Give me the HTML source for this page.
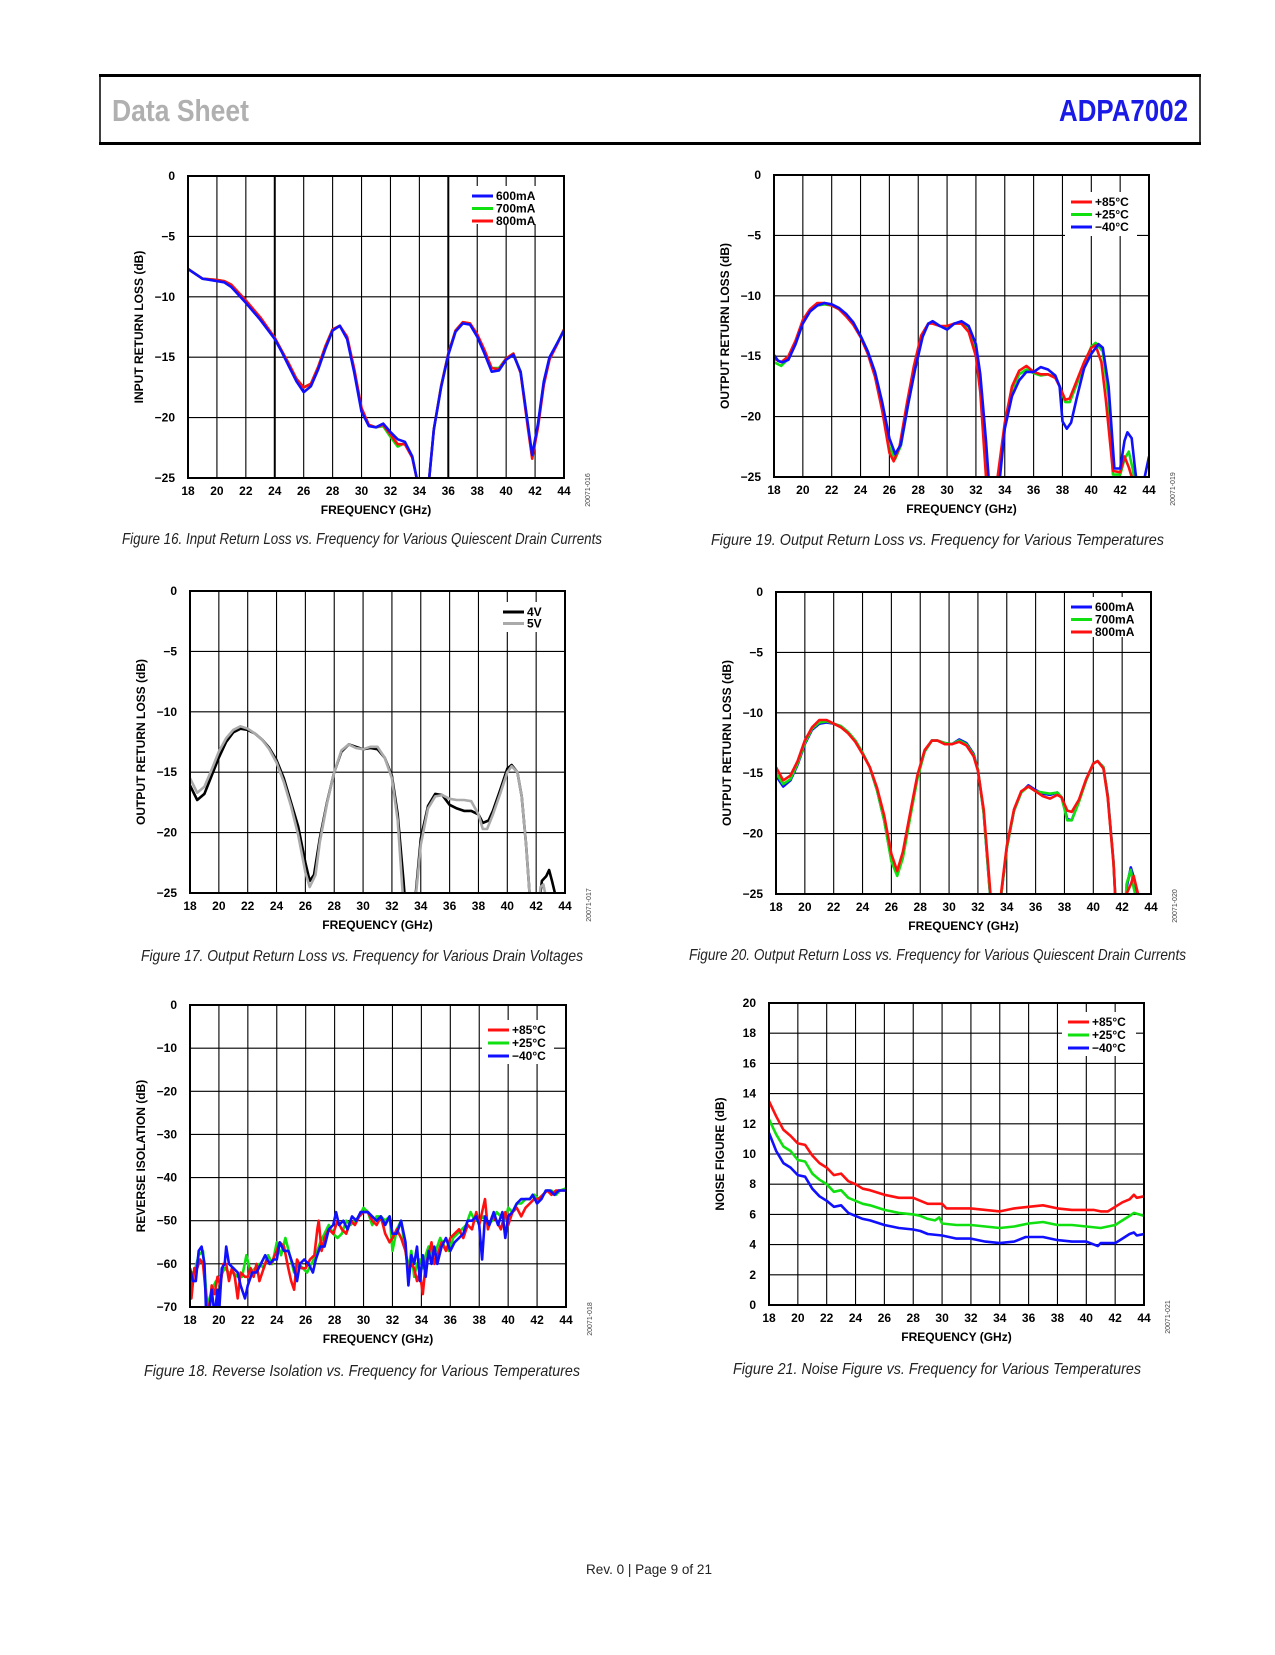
<!DOCTYPE html>
<html><head><meta charset="utf-8"><style>
html,body{margin:0;padding:0;background:#fff;}
svg text{font-family:"Liberation Sans",Arial,sans-serif;}
.cap{font-family:"Liberation Sans Narrow","Liberation Sans",sans-serif;font-style:italic;font-size:16px;fill:#222;}
</style></head><body>
<svg id="page" xmlns="http://www.w3.org/2000/svg" width="1275" height="1650" viewBox="0 0 1275 1650">
<g>
<rect x="100" y="76" width="1100" height="67" fill="none" stroke="#000" stroke-width="1.5"/>
<line x1="99" y1="75.5" x2="1201" y2="75.5" stroke="#000" stroke-width="3"/>
<line x1="99" y1="143.5" x2="1201" y2="143.5" stroke="#000" stroke-width="3"/>
<text x="112" y="121" font-size="31" font-weight="bold" fill="#b0b0b0" textLength="137" lengthAdjust="spacingAndGlyphs">Data Sheet</text>
<text x="1059" y="121" font-size="31" font-weight="bold" fill="#1a1ae6" textLength="129" lengthAdjust="spacingAndGlyphs">ADPA7002</text>
</g>
<text class="cap" x="122" y="544" textLength="480" lengthAdjust="spacingAndGlyphs">Figure 16. Input Return Loss vs. Frequency for Various Quiescent Drain Currents</text>
<text class="cap" x="711" y="545" textLength="453" lengthAdjust="spacingAndGlyphs">Figure 19. Output Return Loss vs. Frequency for Various Temperatures</text>
<text class="cap" x="141" y="961" textLength="442" lengthAdjust="spacingAndGlyphs">Figure 17. Output Return Loss vs. Frequency for Various Drain Voltages</text>
<text class="cap" x="689" y="960" textLength="497" lengthAdjust="spacingAndGlyphs">Figure 20. Output Return Loss vs. Frequency for Various Quiescent Drain Currents</text>
<text class="cap" x="144" y="1376" textLength="436" lengthAdjust="spacingAndGlyphs">Figure 18. Reverse Isolation vs. Frequency for Various Temperatures</text>
<text class="cap" x="733" y="1374" textLength="408" lengthAdjust="spacingAndGlyphs">Figure 21. Noise Figure vs. Frequency for Various Temperatures</text>
<text x="586" y="1574" font-size="14" fill="#222" textLength="126" lengthAdjust="spacingAndGlyphs">Rev. 0 | Page 9 of 21</text>
</svg>
<script>
// ---------- DATA ----------
const xTicks = [18,20,22,24,26,28,30,32,34,36,38,40,42,44];
const rlTicks = [0,-5,-10,-15,-20,-25];
const isoTicks = [0,-10,-20,-30,-40,-50,-60,-70];
const nfTicks = [0,2,4,6,8,10,12,14,16,18,20];

// Fig 16 input return loss
const f16x600 = [18,18.5,19,20,20.5,21,22,23,24,24.5,25,25.5,26,26.5,27,27.5,28,28.5,29,29.5,30,30.5,31,31.5,32,32.5,33,33.5,33.9,34.6,35,35.5,36,36.5,37,37.5,38,38.5,39,39.5,40,40.5,41,41.5,41.8,42.2,42.6,43,43.5,44];
const f16y600 = [-7.7,-8.1,-8.5,-8.7,-8.8,-9.2,-10.5,-11.9,-13.5,-14.6,-15.8,-17,-17.9,-17.4,-16,-14.3,-12.8,-12.4,-13.5,-16.3,-19.5,-20.7,-20.8,-20.5,-21.2,-21.8,-22,-23.2,-25.5,-26,-21,-17.5,-14.8,-12.9,-12.2,-12.3,-13.3,-14.7,-16.2,-16.1,-15.2,-14.8,-16.2,-20.5,-23.1,-20.5,-17,-15,-13.9,-12.8];
const f16y700 = [-7.7,-8.1,-8.5,-8.6,-8.7,-9.1,-10.4,-11.8,-13.4,-14.5,-15.6,-16.8,-17.5,-17.2,-15.8,-14.1,-12.7,-12.4,-13.4,-16.1,-19.3,-20.6,-20.8,-20.7,-21.6,-22.4,-22.1,-23.2,-25.5,-26,-21,-17.4,-14.7,-12.8,-12.1,-12.2,-13.2,-14.5,-15.9,-15.9,-15.1,-14.7,-16.2,-20.6,-23.3,-20.6,-17.1,-15.1,-13.9,-12.7];
const f16y800 = [-7.7,-8.1,-8.5,-8.6,-8.7,-9,-10.3,-11.7,-13.4,-14.5,-15.6,-16.8,-17.5,-17.2,-15.8,-14.1,-12.7,-12.4,-13.3,-16,-19.2,-20.6,-20.8,-20.6,-21.4,-22.2,-22.2,-23.3,-25.5,-26,-21,-17.4,-14.7,-12.8,-12.1,-12.2,-13.1,-14.4,-15.9,-16,-15.1,-14.7,-16.3,-20.8,-23.4,-20.8,-17.3,-15.2,-14,-12.7];

// Fig 19 output return loss vs temperature
const f19xHot = [18,18.5,19,19.5,20,20.5,21,21.5,22,22.5,23,23.5,24,24.5,25,25.5,26,26.3,26.7,27.2,27.7,28.2,28.7,29,29.5,30,30.5,31,31.5,32,32.3,32.7,33,33.5,34,34.5,35,35.5,36,36.5,37,37.5,37.8,38.2,38.5,39,39.5,40,40.3,40.7,41,41.5,42,42.3,42.6,42.8,43];
const f19yHot = [-15.2,-15.5,-15,-13.7,-12,-11.1,-10.6,-10.6,-10.8,-11.1,-11.7,-12.4,-13.4,-14.8,-16.7,-19.5,-23,-23.7,-22.5,-19,-15.8,-13.3,-12.3,-12.3,-12.5,-12.5,-12.3,-12.3,-13,-15,-18,-25,-27,-25,-20.5,-17.5,-16.2,-15.8,-16.3,-16.5,-16.5,-16.8,-17.5,-18.6,-18.5,-17,-15.5,-14.3,-14.1,-15.5,-18.5,-24.5,-24.6,-23.3,-24.2,-25,-27];
const f19xRoom = [18,18.5,19,19.5,20,20.5,21,21.5,22,22.5,23,23.5,24,24.5,25,25.5,26,26.4,26.8,27.3,27.8,28.3,28.7,29,29.5,30,30.5,31,31.5,32,32.4,32.8,33.4,34,34.5,35,35.5,36,36.5,37,37.5,37.8,38.2,38.5,39,39.5,40,40.3,40.8,41.2,41.5,42,42.3,42.6,42.9,43.2,44];
const f19yRoom = [-15.5,-15.8,-15.2,-13.8,-12.2,-11.2,-10.8,-10.7,-10.8,-11.1,-11.6,-12.3,-13.3,-14.6,-16.5,-19.2,-22.5,-23.5,-22.4,-19,-16,-13.3,-12.3,-12.2,-12.5,-12.6,-12.3,-12.2,-12.8,-14.5,-18,-27,-27,-20.8,-17.8,-16.5,-16.1,-16.4,-16.6,-16.5,-16.7,-17.5,-18.8,-18.8,-17.3,-15.7,-14.2,-13.9,-14.6,-18.5,-24.8,-24.8,-23.5,-22.9,-24.5,-27,-27];
const f19xCold = [18,18.3,18.6,19,19.5,20,20.5,21,21.5,22,22.5,23,23.5,24,24.5,25,25.5,26,26.4,26.8,27.3,27.8,28.3,28.7,29,29.5,30,30.5,31,31.5,32,32.3,32.7,33,33.5,34,34.5,35,35.5,36,36.5,37,37.5,37.8,38,38.3,38.6,39,39.5,40,40.5,40.8,41.2,41.6,42,42.3,42.5,42.8,43,43.3,43.7,44];
const f19yCold = [-14.9,-15.4,-15.5,-15.3,-14,-12.3,-11.3,-10.8,-10.6,-10.7,-11,-11.5,-12.2,-13.3,-14.6,-16.3,-18.8,-21.8,-23.1,-22.3,-19,-16,-13.4,-12.3,-12.1,-12.5,-12.8,-12.3,-12.1,-12.5,-14,-16.5,-22,-27,-27,-21,-18.3,-17,-16.3,-16.3,-15.9,-16.1,-16.6,-17.5,-20.4,-21,-20.5,-18.4,-16,-14.8,-14,-14.3,-17.5,-24.3,-24.3,-22,-21.3,-21.8,-24,-27,-25,-23.3];

// Fig 17 output return loss vs drain voltage
const f17x4V = [18,18.5,19,19.5,20,20.5,21,21.5,22,22.5,23,23.5,24,24.5,25,25.5,26,26.3,26.6,27,27.5,28,28.5,29,29.5,30,30.5,31,31.5,32,32.4,32.8,33,33.5,34,34.5,35,35.5,36,36.5,37,37.5,38,38.3,38.7,39,39.5,40,40.3,40.7,41,41.3,41.6,42.2,42.4,42.7,42.9,43.1,43.3];
const f17y4V = [-16.1,-17.3,-16.8,-15.3,-13.8,-12.5,-11.7,-11.4,-11.5,-11.8,-12.3,-13,-14,-15.5,-17.5,-19.5,-22.5,-24,-23.5,-20.5,-17.5,-15,-13.3,-12.7,-12.9,-13.1,-13,-13.1,-13.8,-15.3,-18.5,-24,-27,-27,-20.5,-17.8,-16.8,-16.9,-17.7,-18,-18.2,-18.2,-18.5,-19.2,-19,-18.2,-16.5,-14.7,-14.4,-15,-17,-21,-26,-26,-24,-23.6,-23.1,-24,-25];
const f17x5V = [18,18.5,19,19.5,20,20.5,21,21.5,22,22.5,23,23.5,24,24.5,25,25.5,26,26.3,26.7,27,27.5,28,28.5,29,29.5,30,30.5,31,31.5,32,32.4,32.8,33.6,34,34.5,35,35.5,36,36.5,37,37.5,38,38.3,38.6,39,39.5,40,40.3,40.7,41,41.3,41.6,42.2,42.3,42.5,42.7];
const f17y5V = [-15.5,-16.7,-16.2,-14.8,-13.3,-12.2,-11.5,-11.2,-11.4,-11.8,-12.3,-13.1,-14.2,-15.8,-17.8,-20.2,-23.3,-24.5,-23.5,-20.8,-17.6,-15,-13.2,-12.7,-13,-13.1,-12.9,-12.9,-13.8,-15.5,-19,-26,-26,-21,-18,-17,-16.9,-17.2,-17.3,-17.3,-17.4,-18.5,-19.7,-19.7,-18.5,-16.8,-15,-14.5,-15,-17,-21,-26,-26,-24.5,-24.3,-25.5];

// Fig 20 output return loss vs drain current
const f20x = [18,18.5,19,19.5,20,20.5,21,21.5,22,22.5,23,23.5,24,24.5,25,25.5,26,26.4,26.8,27.3,27.8,28.3,28.8,29.2,29.7,30.2,30.7,31.2,31.7,32,32.4,32.8,33,33.6,34,34.5,35,35.5,36,36.5,37,37.5,37.8,38.2,38.5,39,39.5,40,40.3,40.7,41,41.4,41.6,42.2,42.3,42.6,42.8,43,43.2];
const f20y600 = [-15.2,-16.1,-15.6,-14.3,-12.6,-11.4,-10.9,-10.8,-10.9,-11.1,-11.6,-12.3,-13.3,-14.5,-16.4,-18.9,-22.2,-23.4,-21.9,-18.6,-15.4,-13.2,-12.3,-12.3,-12.5,-12.6,-12.2,-12.5,-13.4,-14.7,-18.3,-24.5,-27,-25.2,-21.2,-18.1,-16.6,-16,-16.4,-16.7,-16.8,-16.6,-17,-18.8,-18.9,-17.3,-15.6,-14.2,-14,-14.5,-16.8,-22.3,-27,-27,-24.5,-22.8,-23.6,-24.8,-25.5];
const f20y700 = [-15,-15.9,-15.5,-14.2,-12.5,-11.3,-10.8,-10.7,-10.9,-11.1,-11.6,-12.3,-13.3,-14.5,-16.4,-18.9,-22.3,-23.5,-22,-18.7,-15.5,-13.2,-12.3,-12.3,-12.5,-12.6,-12.3,-12.6,-13.5,-14.7,-18.3,-24.4,-27,-25.2,-21.2,-18.1,-16.6,-16.1,-16.5,-16.6,-16.7,-16.6,-17,-18.9,-18.9,-17.4,-15.6,-14.2,-14,-14.5,-16.9,-22.4,-27,-27,-24.2,-23,-24.5,-25.5,-26];
const f20y800 = [-14.5,-15.6,-15.2,-14,-12.3,-11.2,-10.6,-10.6,-10.9,-11.2,-11.7,-12.4,-13.4,-14.5,-16.2,-18.5,-21.7,-23.1,-21.5,-18.3,-15.2,-13.1,-12.3,-12.3,-12.6,-12.6,-12.4,-12.7,-13.6,-14.8,-18,-24,-27,-25,-21,-18,-16.5,-16.1,-16.5,-16.9,-17.1,-16.8,-17,-18.1,-18.2,-17.2,-15.5,-14.2,-14,-14.6,-17,-22.5,-27,-27,-25,-24.2,-23.5,-24.5,-25.5];

// Fig 18 reverse isolation
const f18xHot = [18,18.1,18.3,18.5,18.7,18.9,19.1,19.3,19.5,19.7,19.9,20.1,20.3,20.5,20.7,20.9,21.1,21.3,21.5,21.8,22,22.2,22.4,22.6,22.8,23,23.3,23.6,24,24.2,24.5,24.8,25,25.2,25.4,25.7,26,26.3,26.6,26.8,26.9,27.1,27.3,27.6,27.9,28.2,28.5,28.8,29.1,29.4,29.7,30,30.3,30.6,30.9,31.2,31.5,31.8,32,32.3,32.6,32.9,33.1,33.3,33.5,33.7,33.9,34.1,34.3,34.5,34.7,34.9,35.1,35.4,35.7,36,36.3,36.6,36.9,37.2,37.5,37.8,38,38.2,38.4,38.6,38.9,39.2,39.5,39.8,40,40.3,40.6,40.9,41.2,41.5,41.8,42.1,42.4,42.7,43,43.3,43.6,44];
const f18yHot = [-63,-68,-61,-61,-59,-60,-67,-72,-65,-67,-63,-65,-60,-60,-64,-61,-63,-68,-62,-63,-63,-61,-63,-60,-64,-62,-59,-60,-57,-55,-56,-61,-64,-66,-59,-61,-61,-59,-58,-52,-50,-57,-54,-52,-53,-50,-52,-53,-50,-51,-49,-48,-48,-50,-51,-49,-53,-55,-54,-52,-54,-57,-62,-60,-61,-64,-62,-67,-60,-58,-55,-60,-58,-55,-57,-54,-53,-52,-54,-51,-52,-48,-51,-48,-45,-52,-49,-50,-52,-48,-51,-48,-47,-49,-47,-46,-45,-45,-44,-43,-44,-43,-43,-43];
const f18xRoom = [18,18.3,18.6,18.9,19.2,19.5,19.8,20.1,20.4,20.7,21,21.3,21.6,21.9,22.2,22.5,22.8,23.1,23.4,23.7,24,24.3,24.6,24.9,25.2,25.5,25.8,26.1,26.4,26.7,27,27.3,27.6,27.9,28.2,28.5,28.8,29.1,29.4,29.7,30,30.3,30.6,30.9,31.2,31.5,31.8,32,32.3,32.6,32.9,33.1,33.3,33.5,33.7,33.9,34.1,34.3,34.5,34.7,35,35.3,35.6,35.9,36.2,36.5,36.8,37.1,37.4,37.7,38,38.3,38.6,38.9,39.2,39.5,39.8,40,40.3,40.6,40.9,41.2,41.5,41.8,42.1,42.4,42.7,43,43.3,43.6,44];
const f18yRoom = [-62,-62,-58,-57,-70,-66,-64,-63,-61,-62,-62,-63,-63,-58,-62,-61,-60,-61,-58,-60,-55,-58,-54,-58,-62,-60,-61,-62,-60,-58,-55,-53,-51,-53,-54,-53,-50,-51,-50,-49,-47,-48,-51,-49,-49,-50,-49,-57,-52,-50,-57,-61,-57,-63,-60,-59,-61,-58,-56,-58,-57,-54,-56,-57,-54,-53,-52,-51,-48,-50,-50,-49,-51,-50,-48,-49,-50,-47,-48,-46,-46,-45,-45,-44,-45,-44,-43,-43,-44,-43,-42.5];
const f18xCold = [18,18.2,18.4,18.6,18.8,19,19.1,19.3,19.5,19.7,19.9,20,20.2,20.4,20.5,20.7,21,21.3,21.5,21.8,22,22.3,22.6,22.9,23.2,23.5,23.8,24,24.2,24.5,24.8,25,25.2,25.4,25.6,25.9,26.2,26.5,26.7,27,27.3,27.6,27.9,28.1,28.3,28.6,28.9,29.2,29.5,29.8,30,30.3,30.6,30.9,31.2,31.5,31.8,32,32.3,32.6,32.9,33.1,33.3,33.5,33.7,33.9,34.1,34.3,34.5,34.7,34.9,35.1,35.4,35.7,36,36.3,36.6,36.9,37.2,37.5,37.8,38,38.2,38.4,38.7,39,39.3,39.6,39.8,40,40.3,40.6,40.9,41.2,41.5,41.7,42,42.3,42.6,42.9,43.2,43.5,44];
const f18yCold = [-61,-64,-64,-57,-56,-60,-70,-72,-66,-72,-66,-72,-61,-60,-56,-60,-61,-62,-65,-68,-65,-62,-62,-60,-58,-60,-59,-59,-55,-57,-57,-59,-61,-64,-60,-59,-60,-62,-59,-56,-56,-52,-51,-48,-51,-50,-52,-49,-50,-48,-48,-48,-49,-50,-49,-51,-49,-53,-53,-50,-55,-65,-58,-60,-56,-64,-58,-63,-57,-60,-56,-60,-56,-54,-57,-55,-54,-53,-50,-50,-49,-51,-59,-49,-51,-48,-51,-48,-54,-49,-48,-46,-45,-45,-45,-44,-46,-45,-43,-43,-44,-43,-43];

// Fig 21 noise figure
const f21xHot = [18,18.5,19,19.5,20,20.5,21,21.5,22,22.5,23,23.5,24,24.5,25,26,27,28,28.5,29,30,30.3,31,32,33,34,34.5,35,36,37,38,39,40,40.5,41,41.5,42,42.5,43,43.3,43.5,44];
const f21yHot = [13.5,12.5,11.6,11.2,10.7,10.6,9.9,9.4,9.1,8.6,8.7,8.2,8,7.7,7.6,7.3,7.1,7.1,6.9,6.7,6.7,6.4,6.4,6.4,6.3,6.2,6.3,6.4,6.5,6.6,6.4,6.3,6.3,6.3,6.2,6.2,6.5,6.8,7,7.3,7.1,7.2];
const f21xRoom = [18,18.5,19,19.5,20,20.5,21,21.5,22,22.5,23,23.5,24,24.5,25,26,27,28,28.5,29,29.5,29.8,30,31,32,33,34,35,36,37,38,39,40,41,41.5,42,42.5,43,43.3,44];
const f21yRoom = [12.3,11.3,10.5,10.2,9.6,9.5,8.7,8.3,8,7.5,7.6,7.1,6.9,6.7,6.6,6.3,6.1,6,5.9,5.7,5.6,5.8,5.4,5.3,5.3,5.2,5.1,5.2,5.4,5.5,5.3,5.3,5.2,5.1,5.2,5.3,5.6,5.9,6.1,5.9];
const f21xCold = [18,18.5,19,19.5,20,20.5,21,21.5,22,22.5,23,23.5,24,24.5,25,26,27,28,28.5,29,30,31,32,33,34,35,35.8,36,37,38,39,40,40.8,41,42,42.5,43,43.3,43.5,44];
const f21yCold = [11.4,10.2,9.4,9.1,8.6,8.5,7.7,7.2,6.9,6.5,6.6,6.1,5.9,5.7,5.6,5.3,5.1,5,4.9,4.7,4.6,4.4,4.4,4.2,4.1,4.2,4.5,4.5,4.5,4.3,4.2,4.2,3.9,4.1,4.1,4.4,4.7,4.8,4.6,4.7];

// ---------- RENDER ----------
const NS = "http://www.w3.org/2000/svg";
const page = document.getElementById('page');
function mk(tag, attrs, parent){ const e=document.createElementNS(NS,tag); for(const k in attrs) e.setAttribute(k,attrs[k]); (parent||page).appendChild(e); return e; }

function drawChart(c){
  const g = mk('g',{});
  
  
  const sx = v => c.L + (v-18)/(44-18)*(c.R-c.L);
  const sy = v => c.B - (v-c.ymin)/(c.ymax-c.ymin)*(c.B-c.T);
  const clipId = c.name+'-clip';
  const cp = mk('clipPath',{id:clipId},g); mk('rect',{x:c.L,y:c.T,width:c.R-c.L,height:c.B-c.T},cp);
  xTicks.forEach(t=>{
    const ln = mk('line',{x1:sx(t),x2:sx(t),y1:c.T,y2:c.B,stroke:'#000','stroke-width':(c.thick&&c.thick.includes(t))?2:1.1},g);
    
    
    const tx = mk('text',{x:sx(t),y:c.B+17,'font-size':12,'font-weight':'bold','text-anchor':'middle'},g);
    tx.textContent = t;
    
    
  });
  c.yt.forEach(t=>{
    const ln = mk('line',{x1:c.L,x2:c.R,y1:sy(t),y2:sy(t),stroke:'#000','stroke-width':1.1},g);
    
    
    const tx = mk('text',{x:c.L-13,y:sy(t)+4,'font-size':12,'font-weight':'bold','text-anchor':'end'},g);
    tx.textContent = t<0 ? '\u2212'+(-t) : t;
    
    
  });
  const lg = c.leg;
  const lb = mk('rect',{x:lg.x-6,y:lg.y-10,width:lg.w,height:lg.h,fill:'#fff'},g);
  
  
  const sg = mk('g',{'clip-path':'url(#'+clipId+')'},g);
  c.series.forEach(s=>{
    const d = s.x.map((xv,i)=>(i?'L':'M')+sx(xv).toFixed(1)+','+sy(s.y[i]).toFixed(1)).join(' ');
    const p = mk('path',{d:d,fill:'none',stroke:s.color,'stroke-width':s.w||2.6,'stroke-linejoin':'round'},sg);
    
    
  });
  const fr = mk('rect',{x:c.L,y:c.T,width:c.R-c.L,height:c.B-c.T,fill:'none',stroke:'#000','stroke-width':2},g);
  
  
  c.legOrder.forEach((s,i)=>{
    const y = lg.y + i*lg.dy;
    const ll = mk('line',{x1:lg.x,x2:lg.x+21,y1:y,y2:y,stroke:s.color,'stroke-width':3},g);
    
    
    const lt = mk('text',{x:lg.x+24,y:y+4,'font-size':12,'font-weight':'bold'},g);
    lt.textContent = s.label;
    
    
  });
  const xt = mk('text',{x:(c.L+c.R)/2,y:c.B+36,'font-size':12,'font-weight':'bold','text-anchor':'middle'},g);
  xt.textContent = 'FREQUENCY (GHz)';
  
  
  const yx = c.L-45, yy=(c.T+c.B)/2;
  const yt = mk('text',{x:yx,y:yy,'font-size':12,'font-weight':'bold','text-anchor':'middle',transform:'rotate(-90 '+yx+' '+yy+')'},g);
  yt.textContent = c.ytitle;
  
  
  const cx = c.R+26, cy = c.B+12;
  const code = mk('text',{x:cx,y:cy,'font-size':7,fill:'#444','text-anchor':'middle',transform:'rotate(-90 '+cx+' '+cy+')'},g);
  code.textContent = c.code;
  
  
}

const RED='#ff1010', GRN='#10e010', BLU='#1010ff';
(function(){
  const s600={id:'600ma',x:f16x600,y:f16y600,color:BLU,label:'600mA'};
  const s700={id:'700ma',x:f16x600,y:f16y700,color:GRN,label:'700mA'};
  const s800={id:'800ma',x:f16x600,y:f16y800,color:RED,label:'800mA'};
  drawChart({name:'figure-16-chart',L:188,R:564,T:176,B:478,ymin:-25,ymax:0,yt:rlTicks,thick:[24,36],
    series:[s700,s800,s600],legOrder:[s600,s700,s800],leg:{x:472,y:196,dy:12.5,w:70,h:38},
    ytitle:'INPUT RETURN LOSS (dB)',code:'20071-016'});
})();
(function(){
  const h={id:'plus85c',x:f19xHot,y:f19yHot,color:RED,label:'+85°C'};
  const r={id:'plus25c',x:f19xRoom,y:f19yRoom,color:GRN,label:'+25°C'};
  const cc={id:'minus40c',x:f19xCold,y:f19yCold,color:BLU,label:'\u221240°C'};
  drawChart({name:'figure-19-chart',L:774,R:1149,T:175,B:477,ymin:-25,ymax:0,yt:rlTicks,
    series:[r,h,cc],legOrder:[h,r,cc],leg:{x:1071,y:202,dy:12.5,w:72,h:44},
    ytitle:'OUTPUT RETURN LOSS (dB)',code:'20071-019'});
})();
(function(){
  const a={id:'4v',x:f17x4V,y:f17y4V,color:'#000',label:'4V'};
  const b={id:'5v',x:f17x5V,y:f17y5V,color:'#aaaaaa',label:'5V'};
  drawChart({name:'figure-17-chart',L:190,R:565,T:591,B:893,ymin:-25,ymax:0,yt:rlTicks,
    series:[a,b],legOrder:[a,b],leg:{x:503,y:612,dy:11.5,w:48,h:30},
    ytitle:'OUTPUT RETURN LOSS (dB)',code:'20071-017'});
})();
(function(){
  const a={id:'600ma',x:f20x,y:f20y600,color:BLU,label:'600mA'};
  const b={id:'700ma',x:f20x,y:f20y700,color:GRN,label:'700mA'};
  const d={id:'800ma',x:f20x,y:f20y800,color:RED,label:'800mA'};
  drawChart({name:'figure-20-chart',L:776,R:1151,T:592,B:894,ymin:-25,ymax:0,yt:rlTicks,
    series:[a,b,d],legOrder:[a,b,d],leg:{x:1071,y:607,dy:12.5,w:76,h:40},
    ytitle:'OUTPUT RETURN LOSS (dB)',code:'20071-020'});
})();
(function(){
  const h={id:'plus85c',x:f18xHot,y:f18yHot,color:RED,label:'+85°C'};
  const r={id:'plus25c',x:f18xRoom,y:f18yRoom,color:GRN,label:'+25°C'};
  const cc={id:'minus40c',x:f18xCold,y:f18yCold,color:BLU,label:'\u221240°C'};
  drawChart({name:'figure-18-chart',L:190,R:566,T:1005,B:1307,ymin:-70,ymax:0,yt:isoTicks,
    series:[r,h,cc],legOrder:[h,r,cc],leg:{x:488,y:1030,dy:13,w:72,h:44},
    ytitle:'REVERSE ISOLATION (dB)',code:'20071-018'});
})();
(function(){
  const h={id:'plus85c',x:f21xHot,y:f21yHot,color:RED,label:'+85°C'};
  const r={id:'plus25c',x:f21xRoom,y:f21yRoom,color:GRN,label:'+25°C'};
  const cc={id:'minus40c',x:f21xCold,y:f21yCold,color:BLU,label:'\u221240°C'};
  drawChart({name:'figure-21-chart',L:769,R:1144,T:1003,B:1305,ymin:0,ymax:20,yt:nfTicks,
    series:[h,r,cc],legOrder:[h,r,cc],leg:{x:1068,y:1022,dy:13,w:74,h:44},
    ytitle:'NOISE FIGURE (dB)',code:'20071-021'});
})();
</script>
</body></html>
